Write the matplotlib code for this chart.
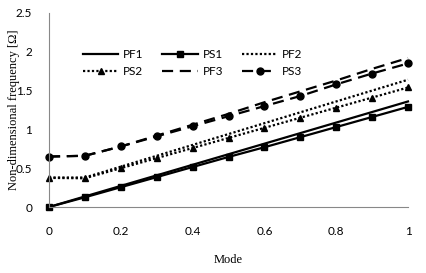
import matplotlib
matplotlib.use('Agg')
import matplotlib.pyplot as plt

# data
mode = [0, 0.1, 0.2, 0.3, 0.4, 0.5, 0.6, 0.7, 0.8, 0.9, 1.0]
PF1 = [0, 0.136, 0.272, 0.408, 0.544, 0.68, 0.816, 0.952, 1.088, 1.224, 1.36]
PS1 = [0, 0.125, 0.255, 0.385, 0.515, 0.645, 0.77, 0.90, 1.03, 1.16, 1.29]
PF2 = [0.38, 0.38, 0.52, 0.66, 0.80, 0.94, 1.08, 1.22, 1.36, 1.50, 1.64]
PS2 = [0.375, 0.37, 0.50, 0.63, 0.76, 0.89, 1.02, 1.15, 1.28, 1.41, 1.54]
PF3 = [0.65, 0.66, 0.78, 0.92, 1.06, 1.20, 1.35, 1.49, 1.63, 1.78, 1.92]
PS3 = [0.65, 0.66, 0.78, 0.91, 1.04, 1.17, 1.30, 1.43, 1.58, 1.72, 1.85]

xticks = [0, 0.2, 0.4, 0.6, 0.8, 1]
yticks = [0, 0.5, 1, 1.5, 2, 2.5]

fig = plt.figure(figsize=(4.26, 2.73), dpi=100)
ax = fig.add_axes([49/426, 1 - 207/273, (408-49)/426, (207-13)/273])

lw = 1.6
h1, = ax.plot(mode, PF1, color='black', lw=lw, label='PF1')
h2, = ax.plot(mode, PS1, color='black', lw=lw, marker='s', ms=5, label='PS1')
h3, = ax.plot(mode, PF2, color='black', lw=lw, ls=(0, (1, 1)), label='PF2')
h4, = ax.plot(mode, PS2, color='black', lw=lw, ls=(0, (1, 1)), marker='^', ms=5, label='PS2')
h5, = ax.plot(mode, PF3, color='black', lw=lw, ls=(0, (5, 3)), label='PF3')
h6, = ax.plot(mode, PS3, color='black', lw=lw, ls=(0, (5, 3)), marker='o', ms=5, label='PS3')

ax.set_xlim(0, 1)
ax.set_ylim(0, 2.5)
ax.set_xticks(xticks)
ax.set_xticklabels(['0', '0.2', '0.4', '0.6', '0.8', '1'])
ax.set_yticks(yticks)
ax.set_yticklabels(['0', '0.5', '1', '1.5', '2', '2.5'])
ax.tick_params(length=0, labelsize=8.5, pad=12)
ax.tick_params(axis='x', pad=14)
for lab in ax.get_xticklabels() + ax.get_yticklabels():
    lab.set_family('Lato')

for s in ['top', 'right']:
    ax.spines[s].set_visible(False)
ax.spines['left'].set_color('#888888')
ax.spines['bottom'].set_color('#888888')
for ln in ax.lines:
    ln.set_clip_on(False)

ax.set_xlabel('Mode', family='Liberation Serif', fontsize=9, labelpad=12)
ax.set_ylabel('Non-dimensional frequency [\u03a9]', family='Liberation Serif', fontsize=9, labelpad=-3)

leg = ax.legend([h1, h4, h2, h5, h3, h6], ['PF1', 'PS2', 'PS1', 'PF3', 'PF2', 'PS3'],
                ncol=3, loc='upper left', bbox_to_anchor=(0.065, 0.87), frameon=False,
                prop={'family': 'Lato', 'size': 8.5}, handlelength=3.0, columnspacing=1.6,
                labelspacing=0.5, handletextpad=0.4)

fig.savefig('out.png', dpi=100)
